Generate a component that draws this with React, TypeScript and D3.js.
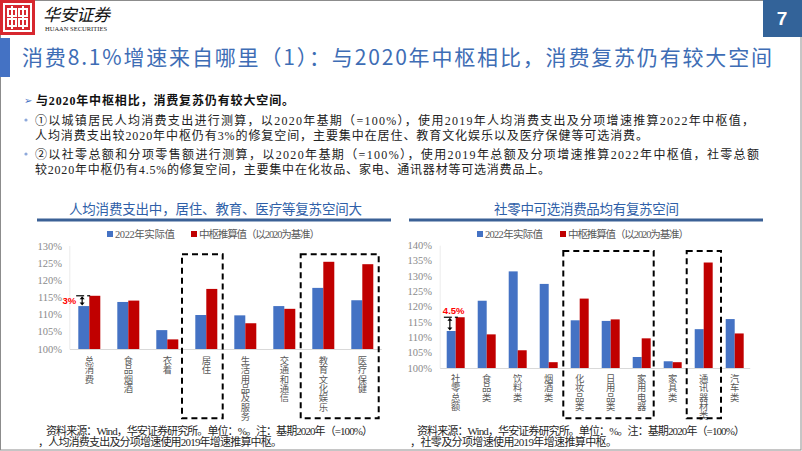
import React from 'react';
import * as d3 from 'd3';

const leftCats = ['总消费', '食品烟酒', '衣着', '居住', '生活用品及服务', '交通和通信', '教育文化娱乐', '医疗保健'];
const leftActual = [112.5, 113.7, 105.5, 109.9, 109.8, 112.5, 117.8, 114.2];
const leftCenter = [115.5, 114.1, 102.8, 117.5, 107.5, 111.7, 125.4, 124.7];
const leftTicks = [100, 105, 110, 115, 120, 125, 130];

const rightCats = ['社零总额', '食品类', '饮料类', '烟酒类', '化妆品类', '日用品类', '家用电器', '家具类', '通讯器材类', '汽车类'];
const rightActual = [112.1, 122.0, 131.6, 127.5, 115.6, 115.4, 103.6, 102.2, 112.7, 116.0];
const rightCenter = [116.6, 111.0, 105.8, 101.9, 122.7, 115.9, 109.7, 101.9, 134.5, 111.3];
const rightTicks = [100, 105, 110, 115, 120, 125, 130, 135, 140];

const seriesNames = ['2022年实际值', '中枢推算值（以2020为基准）'];
const BLUE = '#4472C4';
const RED = '#C00000';
const SERIF = '"Liberation Serif", "DejaVu Serif", "Noto Sans CJK SC", serif';
const CJK = '"Noto Sans CJK SC", "Liberation Serif", sans-serif';

type ChartProps = {
  cats: string[];
  actual: number[];
  center: number[];
  ticks: number[];
  x0: number; x1: number; y0: number; y1: number;
  pad: number;
  boxes: { from: string; to: string; l: number; r: number; top: number; bottom: number }[];
  note: string;
  labelY: number;
  labelX: number;
  title: string;
  titleX: number; titleW: number;
  lineX0: number; lineX1: number;
  legX: number[];
  legW: number[];
  src: string[]; srcX: number[]; srcW: number[];
};

function Chart(p: ChartProps) {
  const x = d3.scaleBand<string>().domain(p.cats).range([p.x0, p.x1]).paddingInner(p.pad).paddingOuter(p.pad / 2);
  const y = d3.scaleLinear().domain([p.ticks[0], p.ticks[p.ticks.length - 1]]).range([p.y0, p.y1]);
  const inner = d3.scaleBand<string>().domain(['a', 'c']).range([0, x.bandwidth()]);
  const bw = inner.bandwidth();
  const cx0 = (x(p.cats[0]) as number) + x.bandwidth() / 2;
  const left = p.cats.length === 8;
  return (
    <g>
      <text x={p.titleX} y={214} fontFamily={CJK} fontSize={13.5} fill="#2F5FA8" textLength={p.titleW} lengthAdjust="spacing">{p.title}</text>
      <rect x={p.lineX0} y={218.5} width={p.lineX1 - p.lineX0} height={3} fill="#3B6196" />
      {/* legend */}
      {seriesNames.map((s, i) => (
        <g key={s}>
          <rect x={p.legX[i]} y={231} width={6} height={6} fill={i === 0 ? BLUE : RED} />
          <text x={p.legX[i] + 8} y={238} fontFamily={SERIF} fontSize={10.5} fill="#595959" textLength={p.legW[i]} lengthAdjust="spacing">{s}</text>
        </g>
      ))}
      {/* y axis */}
      <line x1={p.x0} x2={p.x0} y1={p.y1} y2={p.y0} stroke="#ececec" />
      {p.ticks.map(t => (
        <text key={t} x={p.labelX} y={y(t) + 3.5} textAnchor="end" fontFamily={SERIF} fontSize={10.5} fill="#8a8a8a">{t}%</text>
      ))}
      {/* bars */}
      {p.cats.map((c, i) => (
        <g key={c}>
          <rect x={(x(c) as number) + (inner('a') as number)} y={y(p.actual[i])} width={bw} height={p.y0 - y(p.actual[i])} fill={BLUE} />
          <rect x={(x(c) as number) + (inner('c') as number)} y={y(p.center[i])} width={bw} height={p.y0 - y(p.center[i])} fill={RED} />
        </g>
      ))}
      <line x1={p.x0} x2={p.x1} y1={p.y0 + 0.5} y2={p.y0 + 0.5} stroke="#d9d9d9" />
      {/* x labels vertical */}
      {p.cats.map(c => {
        const cx = (x(c) as number) + x.bandwidth() / 2;
        return (
          <text key={c} x={cx} y={p.labelY} fontFamily={CJK} fontSize={9.3} fill="#595959" style={{ writingMode: 'vertical-rl', textOrientation: 'upright' }}>{c}</text>
        );
      })}
      {/* dashed boxes */}
      {p.boxes.map((b, i) => {
        const l = (x(b.from) as number) + x.bandwidth() / 2 + b.l;
        const r = (x(b.to) as number) + x.bandwidth() / 2 + b.r;
        return <rect key={i} x={l} y={b.top} width={r - l} height={b.bottom - b.top} fill="none" stroke="#000" strokeWidth={2} strokeDasharray="6,4" />;
      })}
      {/* annotation */}
      {(() => {
        const yt = y(p.center[0]);
        const yb = y(p.actual[0]);
        const ax = cx0 - bw * 0.65;
        return (
          <g>
            <line x1={ax - 6} x2={ax + 2} y1={yt} y2={yt} stroke="#000" strokeWidth={1.2} />
            <line x1={ax + 5} x2={ax + 8} y1={yt} y2={yt} stroke="#000" strokeWidth={1.2} />
            <line x1={ax} x2={ax} y1={yt + 2} y2={yb - 2} stroke="#000" strokeWidth={1.2} />
            <path d={`M${ax - 2.5},${yt + 3.5} L${ax},${yt + 0.5} L${ax + 2.5},${yt + 3.5} Z`} fill="#000" />
            <path d={`M${ax - 2.5},${yb - 3.5} L${ax},${yb - 0.5} L${ax + 2.5},${yb - 3.5} Z`} fill="#000" />
            <text x={left ? ax - 6 : ax - 7} y={left ? yt + 8 : yt - 3} textAnchor={left ? 'end' : 'start'} fontFamily='"Liberation Sans", Arial, sans-serif' fontWeight="bold" fontSize={9.5} fill="#FF0000">{p.note}</text>
          </g>
        );
      })()}
      {/* source */}
      {p.src.map((s, i) => (
        <text key={i} x={p.srcX[i]} y={434.5 + i * 11.5} fontFamily={SERIF} fontSize={11} fill="#262626" textLength={p.srcW[i]} lengthAdjust="spacing">{s}</text>
      ))}
    </g>
  );
}

export default function App() {
  return (
    <svg width={802} height={451} viewBox="0 0 802 451" style={{ position: 'absolute', left: 0, top: 0, background: '#fff' }}>
      <rect x={0} y={0} width={802} height={451} fill="#fff" />
      <rect x={0.5} y={0.5} width={800.5} height={449.5} fill="none" stroke="#8c8c8c" />
      {/* logo */}
      <rect x={0} y={0} width={35} height={35} fill="#D7282F" />
      <g stroke="#fff" strokeWidth={2} fill="none">
        <rect x={4} y={4} width={27} height={27} />
        <rect x={8} y={9} width={8} height={7} />
        <rect x={19} y={9} width={8} height={7} />
        <rect x={8} y={19} width={8} height={7} />
        <rect x={19} y={19} width={8} height={7} />
        <line x1={12} x2={12} y1={6} y2={29} />
        <line x1={23} x2={23} y1={6} y2={29} />
      </g>
      <text x={43} y={21} fontFamily={CJK} fontSize={17} fontStyle="italic" fill="#111" textLength={67} lengthAdjust="spacing">华安证券</text>
      <text x={45} y={31} fontFamily={SERIF} fontSize={6.5} fill="#222" textLength={62} lengthAdjust="spacing">HUAAN SECURITIES</text>
      {/* page number */}
      <rect x={763} y={0} width={39} height={37} fill="#336399" />
      <text x={782} y={25} textAnchor="middle" fontFamily='"Liberation Sans", Arial, sans-serif' fontWeight="bold" fontSize={19} fill="#fff">7</text>
      {/* title */}
      <rect x={0} y={38} width={10} height={39} fill="#4472C4" />
      <text x={22} y={65} fontFamily={CJK} fontSize={21} fill="#3E6DB5" textLength={750} lengthAdjust="spacing">消费8.1%增速来自哪里（1）：与2020年中枢相比，消费复苏仍有较大空间</text>
      {/* bullets */}
      <text x={24} y={104} fontFamily={CJK} fontSize={10} fill="#4472C4">➢</text>
      <text x={36} y={105} fontFamily={SERIF} fontSize={12} fontWeight="bold" fill="#111" textLength={258} lengthAdjust="spacing">与2020年中枢相比，消费复苏仍有较大空间。</text>
      <circle cx={26} cy={120} r={1.6} fill="#8EA9DB" />
      <text x={35} y={125} fontFamily={SERIF} fontSize={12} fill="#222" textLength={719} lengthAdjust="spacing">①以城镇居民人均消费支出进行测算，以2020年基期（=100%），使用2019年人均消费支出及分项增速推算2022年中枢值，</text>
      <text x={35} y={140} fontFamily={SERIF} fontSize={12} fill="#222" textLength={613} lengthAdjust="spacing">人均消费支出较2020年中枢仍有3%的修复空间，主要集中在居住、教育文化娱乐以及医疗保健等可选消费。</text>
      <circle cx={26} cy={154} r={1.6} fill="#8EA9DB" />
      <text x={35} y={159} fontFamily={SERIF} fontSize={12} fill="#222" textLength={724} lengthAdjust="spacing">②以社零总额和分项零售额进行测算，以2020年基期（=100%），使用2019年总额及分项增速推算2022年中枢值，社零总额</text>
      <text x={35} y={174} fontFamily={SERIF} fontSize={12} fill="#222" textLength={515} lengthAdjust="spacing">较2020年中枢仍有4.5%的修复空间，主要集中在化妆品、家电、通讯器材等可选消费品上。</text>

      <Chart
        cats={leftCats} actual={leftActual} center={leftCenter} ticks={leftTicks}
        x0={69.8} x1={381.8} y0={349} y1={246} pad={0.436}
        boxes={[
          { from: '居住', to: '居住', l: -24.3, r: 16.4, top: 254.3, bottom: 418.3 },
          { from: '教育文化娱乐', to: '医疗保健', l: -22.6, r: 16.4, top: 254.3, bottom: 418.3 },
        ]}
        note="3%" labelY={356} labelX={62}
        title="人均消费支出中，居住、教育、医疗等复苏空间大" titleX={69} titleW={293}
        lineX0={37} lineX1={391}
        legX={[107, 191]} legW={[60, 121]}
        src={['资料来源：Wind，华安证券研究所。单位：%。注：基期2020年（=100%）', '，人均消费支出及分项增速使用2019年增速推算中枢。']}
        srcX={[46, 38]} srcW={[327, 244]}
      />
      <Chart
        cats={rightCats} actual={rightActual} center={rightCenter} ticks={rightTicks}
        x0={440.2} x1={750.2} y0={368} y1={245.7} pad={0.42}
        boxes={[
          { from: '化妆品类', to: '家用电器', l: -16.4, r: 12, top: 251, bottom: 418.3 },
          { from: '通讯器材类', to: '通讯器材类', l: -17, r: 17.3, top: 251, bottom: 418.3 },
        ]}
        note="4.5%" labelY={374} labelX={432}
        title="社零中可选消费品均有复苏空间" titleX={494} titleW={185}
        lineX0={409} lineX1={763}
        legX={[477, 560]} legW={[58, 121]}
        src={['资料来源：Wind，华安证券研究所。单位：%。注：基期2020年（=100%）', '，社零及分项增速使用2019年增速推算中枢。']}
        srcX={[417, 410]} srcW={[328, 207]}
      />
    </svg>
  );
}
